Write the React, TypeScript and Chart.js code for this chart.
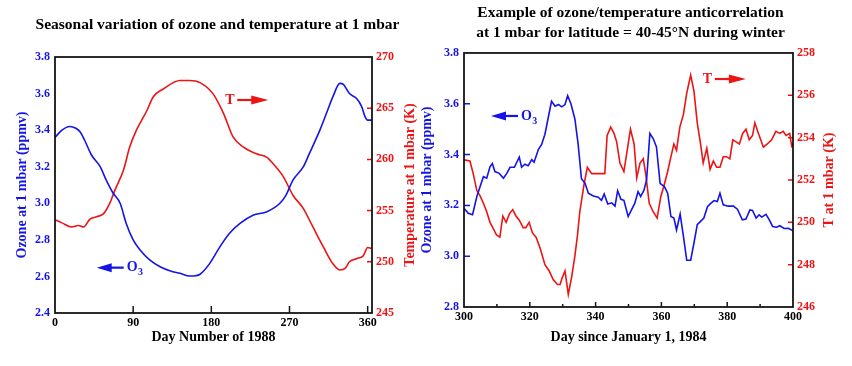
import React, { useEffect, useRef } from "react";
import { Chart, registerables } from "chart.js";

Chart.register(...registerables);

const SERIF = '"Liberation Serif", "Times New Roman", Times, serif';
const BLUE = "#1414e6";
const RED = "#ec1414";
const INK = "#151515";

// ---------- Left panel: seasonal variation at 1 mbar (1988) ----------
const SEASON_O3_DAYS = [0, 8, 17, 24, 29, 34, 42, 52, 59, 67, 75, 82, 90, 98, 109, 121, 133, 144, 155, 162, 167, 178, 190, 201, 213, 228, 244, 259, 266, 274, 286, 293, 305, 314, 320, 328, 332, 339, 347, 353, 357, 360, 365];
const SEASON_O3 = [3.36, 3.4, 3.42, 3.41, 3.39, 3.346, 3.264, 3.2, 3.127, 3.055, 3.0, 2.89, 2.8, 2.745, 2.69, 2.653, 2.63, 2.617, 2.602, 2.604, 2.612, 2.67, 2.763, 2.836, 2.89, 2.935, 2.954, 3.0, 3.045, 3.127, 3.2, 3.273, 3.4, 3.51, 3.583, 3.656, 3.65, 3.6, 3.574, 3.53, 3.474, 3.455, 3.455];
const SEASON_T_DAYS = [0, 8, 19, 27, 33, 40, 48, 56, 63, 69, 79, 86, 94, 106, 113, 125, 144, 155, 167, 182, 194, 205, 217, 232, 244, 251, 263, 274, 286, 297, 309, 320, 328, 334, 339, 347, 355, 360, 364];
const SEASON_T = [254.1, 253.8, 253.4, 253.55, 253.4, 254.15, 254.4, 254.7, 255.7, 257.0, 259.0, 261.2, 262.9, 264.8, 266.1, 266.9, 267.7, 267.7, 267.5, 266.4, 264.5, 262.2, 261.2, 260.55, 260.2, 259.6, 258.3, 256.5, 255.2, 253.4, 251.45, 249.8, 249.2, 249.35, 250.0, 250.3, 250.6, 251.4, 251.3];
const SEASON_DAY_TICKS = [0, 90, 180, 270, 360];
const SEASON_DAY_MARKS = [90, 180, 270, 360];
const SEASON_O3_TICKS = [2.4, 2.6, 2.8, 3.0, 3.2, 3.4, 3.6, 3.8];
const SEASON_T_TICKS = [245, 250, 255, 260, 265, 270];
const SEASON_T_MARKS = [250, 255, 260, 265];

// ---------- Right panel: winter anticorrelation, 40-45N ----------
const WINTER_O3_DAYS = [300, 301.3, 302.6, 303.9, 304.9, 305.9, 306.9, 307.9, 308.6, 309.4, 310.7, 312, 313, 314, 315.3, 316.8, 317.5, 318.5, 319.5, 320.6, 321.3, 322.6, 323.6, 324.6, 325.6, 326.6, 327.7, 328.7, 329.7, 330.7, 331.5, 332.5, 333.7, 334.7, 335.7, 336.8, 337.8, 339.3, 340.8, 341.8, 342.6, 343.7, 344.9, 345.9, 346.7, 347.7, 348.6, 349.9, 350.9, 351.9, 352.9, 353.7, 354.7, 355.5, 356.5, 357.5, 358.5, 359.6, 360.9, 361.9, 362.9, 363.8, 364.6, 365.7, 366.7, 367.7, 368.9, 369.9, 370.9, 371.9, 372.9, 374, 375, 376, 377, 377.8, 378.8, 380.3, 381.9, 383.1, 384.6, 385.7, 386.9, 387.7, 388.8, 389.7, 390.5, 391.8, 392.8, 393.8, 395, 396, 397.3, 398.6, 400];
const WINTER_O3 = [3.189, 3.169, 3.163, 3.235, 3.274, 3.313, 3.307, 3.352, 3.365, 3.333, 3.326, 3.307, 3.326, 3.35, 3.35, 3.39, 3.35, 3.362, 3.356, 3.38, 3.37, 3.42, 3.44, 3.48, 3.545, 3.61, 3.59, 3.597, 3.588, 3.597, 3.632, 3.6, 3.54, 3.44, 3.305, 3.287, 3.248, 3.237, 3.232, 3.22, 3.245, 3.205, 3.21, 3.197, 3.258, 3.224, 3.22, 3.156, 3.182, 3.208, 3.254, 3.235, 3.26, 3.3, 3.483, 3.463, 3.43, 3.287, 3.274, 3.248, 3.156, 3.15, 3.103, 3.166, 3.078, 2.984, 2.984, 3.052, 3.124, 3.137, 3.15, 3.195, 3.208, 3.219, 3.215, 3.248, 3.202, 3.197, 3.197, 3.185, 3.143, 3.146, 3.182, 3.18, 3.15, 3.163, 3.154, 3.165, 3.143, 3.117, 3.114, 3.12, 3.109, 3.11, 3.1];
const WINTER_T_DAYS = [300, 301.8, 302.8, 303.9, 304.9, 305.9, 306.9, 307.9, 308.9, 309.9, 310.9, 311.8, 312.8, 313.8, 314.8, 315.8, 316.8, 318, 318.8, 319.8, 320.8, 321.9, 323.1, 324.6, 325.9, 327.1, 328.4, 329.2, 329.9, 330.7, 331.7, 332.7, 333.7, 334.5, 335.2, 336.5, 337.5, 338.8, 340.3, 342.8, 343.5, 344.6, 345.6, 346.4, 347.4, 348.6, 349.6, 350.6, 351.7, 352.5, 353.5, 354.5, 355.3, 356.3, 357.5, 358.7, 359.8, 360.9, 361.9, 362.9, 363.8, 364.6, 365.6, 366.7, 367.7, 368.9, 369.9, 370.9, 371.9, 372.7, 373.8, 374.8, 375.8, 376.8, 377.8, 378.8, 379.8, 380.8, 381.7, 382.7, 383.7, 384.7, 385.7, 386.7, 387.7, 388.4, 389.5, 391, 392.2, 393.5, 394.8, 396, 397, 397.9, 399, 399.6, 400];
const WINTER_T = [252.95, 252.9, 252.3, 251.5, 251.25, 250.9, 250.5, 250.0, 249.7, 249.4, 249.3, 250.3, 250.0, 250.4, 250.6, 250.3, 250.1, 249.75, 249.75, 250.0, 249.5, 249.3, 248.8, 248.0, 247.7, 247.3, 247.06, 247.06, 247.4, 247.7, 246.6, 247.4, 248.4, 249.4, 250.5, 251.8, 252.6, 252.3, 252.3, 252.3, 254.1, 254.5, 254.2, 253.8, 252.8, 252.4, 253.4, 254.4, 253.7, 252.1, 252.8, 253.0, 252.2, 250.9, 250.5, 250.2, 251.2, 251.8, 252.4, 253.1, 253.7, 253.4, 254.5, 255.1, 256.1, 256.95, 256.2, 254.7, 253.7, 252.8, 253.5, 252.5, 252.9, 252.6, 252.6, 253.1, 253.1, 253.0, 253.9, 253.8, 253.7, 254.2, 254.4, 253.9, 254.1, 254.7, 254.2, 253.55, 253.7, 253.9, 254.3, 254.2, 254.3, 254.1, 254.2, 253.6, 253.7];
const WINTER_DAY_TICKS = [300, 320, 340, 360, 380, 400];
const WINTER_DAY_MARKS = [320, 340, 360, 380];
const WINTER_DAY_MINOR = [310, 330, 350, 370, 390];
const WINTER_O3_TICKS = [2.8, 3.0, 3.2, 3.4, 3.6, 3.8];
const WINTER_O3_MARKS = [3.0, 3.2, 3.4, 3.6];
const WINTER_T_TICKS = [246, 248, 250, 252, 254, 256, 258];
const WINTER_T_MARKS = [248, 250, 252, 254, 256];

const pts = (xs: number[], ys: number[]) => xs.map((x, i) => ({ x, y: ys[i] }));
const font = (size: number) => ({ family: SERIF, size, weight: "bold" as const });

function drawO3Label(ctx: CanvasRenderingContext2D, x: number, y: number) {
  ctx.fillStyle = BLUE;
  ctx.strokeStyle = BLUE;
  ctx.beginPath();
  ctx.moveTo(x, y);
  ctx.lineTo(x + 15, y - 4.5);
  ctx.lineTo(x + 15, y + 4.5);
  ctx.closePath();
  ctx.fill();
  ctx.lineWidth = 2.2;
  ctx.beginPath();
  ctx.moveTo(x + 13, y);
  ctx.lineTo(x + 27, y);
  ctx.stroke();
  ctx.font = `bold 14px ${SERIF}`;
  ctx.textAlign = "left";
  ctx.textBaseline = "middle";
  ctx.fillText("O", x + 30, y);
  const w = ctx.measureText("O").width;
  ctx.font = `bold 10px ${SERIF}`;
  ctx.fillText("3", x + 30 + w + 0.5, y + 5);
}

function drawTLabel(ctx: CanvasRenderingContext2D, x: number, y: number) {
  ctx.fillStyle = RED;
  ctx.strokeStyle = RED;
  ctx.font = `bold 14px ${SERIF}`;
  ctx.textAlign = "left";
  ctx.textBaseline = "middle";
  ctx.fillText("T", x, y);
  ctx.lineWidth = 2.2;
  ctx.beginPath();
  ctx.moveTo(x + 12, y);
  ctx.lineTo(x + 28, y);
  ctx.stroke();
  ctx.beginPath();
  ctx.moveTo(x + 43, y);
  ctx.lineTo(x + 26, y - 4.5);
  ctx.lineTo(x + 26, y + 4.5);
  ctx.closePath();
  ctx.fill();
}

const decorPlugin = {
  id: "decor",
  afterDatasetsDraw(chart: any, _args: any, o: any) {
    const ctx: CanvasRenderingContext2D = chart.ctx;
    const { left, right, top, bottom } = chart.chartArea;
    const sx = chart.scales.x;
    const sy = chart.scales.y;
    const sy1 = chart.scales.y1;
    ctx.save();
    ctx.lineWidth = 1.5;
    ctx.strokeStyle = INK;
    ctx.beginPath();
    for (const v of o.xMarks) {
      const px = sx.getPixelForValue(v);
      ctx.moveTo(px, bottom);
      ctx.lineTo(px, bottom - o.xMarkLen);
    }
    for (const v of o.xMinor) {
      const px = sx.getPixelForValue(v);
      ctx.moveTo(px, bottom);
      ctx.lineTo(px, bottom - o.xMinorLen);
    }
    ctx.stroke();
    ctx.strokeStyle = BLUE;
    ctx.beginPath();
    for (const v of o.o3Marks) {
      const py = sy.getPixelForValue(v);
      ctx.moveTo(left, py);
      ctx.lineTo(left + o.o3MarkLen, py);
    }
    ctx.stroke();
    ctx.strokeStyle = RED;
    ctx.beginPath();
    for (const v of o.tMarks) {
      const py = sy1.getPixelForValue(v);
      ctx.moveTo(right, py);
      ctx.lineTo(right - o.tMarkLen, py);
    }
    ctx.stroke();
    ctx.strokeStyle = INK;
    ctx.lineWidth = 1.8;
    ctx.strokeRect(left, top, right - left, bottom - top);

    // right axis title, reading bottom-to-top like the reference
    ctx.save();
    ctx.translate(right + o.tTitleGap, (top + bottom) / 2);
    ctx.rotate(-Math.PI / 2);
    ctx.fillStyle = RED;
    ctx.font = `bold 14px ${SERIF}`;
    ctx.textAlign = "center";
    ctx.textBaseline = "middle";
    ctx.fillText(o.tTitle, 0, 0);
    ctx.restore();

    drawO3Label(ctx, sx.getPixelForValue(o.o3Label[0]), sy.getPixelForValue(o.o3Label[1]));
    drawTLabel(ctx, sx.getPixelForValue(o.tLabel[0]), sy1.getPixelForValue(o.tLabel[1]));
    ctx.restore();
  },
};

type Panel = {
  title: string | string[];
  titlePad: { top: number; bottom: number };
  titleLineHeight: number;
  xTitle: string;
  xMin: number;
  xMax: number;
  xTicks: number[];
  xMarks: number[];
  xMarkLen: number;
  xMinor: number[];
  xMinorLen: number;
  xAxisHeight: number;
  o3Min: number;
  o3Max: number;
  o3Ticks: number[];
  o3Marks: number[];
  leftWidth: number;
  o3TitlePad: number;
  tMin: number;
  tMax: number;
  tTicks: number[];
  tMarks: number[];
  rightWidth: number;
  tTitle: string;
  tTitleGap: number;
  o3: { x: number; y: number }[];
  t: { x: number; y: number }[];
  smooth: boolean;
  o3Label: [number, number];
  tLabel: [number, number];
};

function buildChart(canvas: HTMLCanvasElement, p: Panel) {
  const lineStyle = p.smooth
    ? { tension: 0.4, cubicInterpolationMode: "monotone" as const }
    : { tension: 0 };
  return new Chart(canvas, {
    type: "line",
    data: {
      datasets: [
        { label: "O3", data: p.o3, borderColor: BLUE, borderWidth: 1.6, pointRadius: 0, yAxisID: "y", fill: false, ...lineStyle },
        { label: "T", data: p.t, borderColor: RED, borderWidth: 1.6, pointRadius: 0, yAxisID: "y1", fill: false, ...lineStyle },
      ],
    },
    options: {
      responsive: false,
      animation: false,
      events: [],
      layout: { padding: 0 },
      plugins: {
        legend: { display: false },
        tooltip: { enabled: false },
        title: {
          display: true,
          text: p.title,
          color: "#000",
          font: { ...font(15.5), lineHeight: p.titleLineHeight },
          padding: p.titlePad,
        },
        decor: {
          xMarks: p.xMarks,
          xMarkLen: p.xMarkLen,
          xMinor: p.xMinor,
          xMinorLen: p.xMinorLen,
          o3Marks: p.o3Marks,
          o3MarkLen: 6,
          tMarks: p.tMarks,
          tMarkLen: 5,
          tTitle: p.tTitle,
          tTitleGap: p.tTitleGap,
          o3Label: p.o3Label,
          tLabel: p.tLabel,
        },
      } as any,
      scales: {
        x: {
          type: "linear",
          position: "bottom",
          min: p.xMin,
          max: p.xMax,
          grid: { display: false, drawTicks: false },
          border: { display: false },
          afterBuildTicks: (s: any) => {
            s.ticks = p.xTicks.map((v) => ({ value: v }));
          },
          afterFit: (s: any) => {
            s.height = p.xAxisHeight;
          },
          ticks: { color: "#000", font: font(12), padding: 3, autoSkip: false, maxRotation: 0 },
          title: { display: true, text: p.xTitle, color: "#000", font: font(14), padding: { top: 0, bottom: 20 } },
        },
        y: {
          type: "linear",
          position: "left",
          min: p.o3Min,
          max: p.o3Max,
          grid: { display: false, drawTicks: false },
          border: { display: false },
          afterBuildTicks: (s: any) => {
            s.ticks = p.o3Ticks.map((v) => ({ value: v }));
          },
          afterFit: (s: any) => {
            s.width = p.leftWidth;
          },
          ticks: { color: BLUE, font: font(12), padding: 5, autoSkip: false, callback: (v: any) => Number(v).toFixed(1) },
          title: { display: true, text: "Ozone at 1 mbar (ppmv)", color: BLUE, font: font(14), padding: { top: p.o3TitlePad, bottom: 0 } },
        },
        y1: {
          type: "linear",
          position: "right",
          min: p.tMin,
          max: p.tMax,
          grid: { display: false, drawTicks: false },
          border: { display: false },
          afterBuildTicks: (s: any) => {
            s.ticks = p.tTicks.map((v) => ({ value: v }));
          },
          afterFit: (s: any) => {
            s.width = p.rightWidth;
          },
          ticks: { color: RED, font: font(12), padding: 4, autoSkip: false, callback: (v: any) => String(v) },
        },
      } as any,
    },
    plugins: [decorPlugin as any],
  });
}

const seasonPanel: Panel = {
  title: "Seasonal variation of ozone and temperature at 1 mbar",
  titlePad: { top: 15.2, bottom: 23.2 },
  titleLineHeight: 1.2,
  xTitle: "Day Number of 1988",
  xMin: 0,
  xMax: 365,
  xTicks: SEASON_DAY_TICKS,
  xMarks: SEASON_DAY_MARKS,
  xMarkLen: 7,
  xMinor: [],
  xMinorLen: 0,
  xAxisHeight: 53,
  o3Min: 2.4,
  o3Max: 3.8,
  o3Ticks: SEASON_O3_TICKS,
  o3Marks: [],
  leftWidth: 55,
  o3TitlePad: 14,
  tMin: 245,
  tMax: 270,
  tTicks: SEASON_T_TICKS,
  tMarks: SEASON_T_MARKS,
  rightWidth: 63,
  tTitle: "Temperature at 1 mbar (K)",
  tTitleGap: 38,
  o3: pts(SEASON_O3_DAYS, SEASON_O3),
  t: pts(SEASON_T_DAYS, SEASON_T),
  smooth: true,
  o3Label: [48, 2.648],
  tLabel: [196, 265.8],
};

const winterPanel: Panel = {
  title: ["Example of ozone/temperature anticorrelation", "at 1 mbar for latitude = 40-45°N during winter"],
  titlePad: { top: 3.4, bottom: 10.2 },
  titleLineHeight: 1.27,
  xTitle: "Day since January 1, 1984",
  xMin: 300,
  xMax: 400,
  xTicks: WINTER_DAY_TICKS,
  xMarks: WINTER_DAY_MARKS,
  xMarkLen: 5,
  xMinor: WINTER_DAY_MINOR,
  xMinorLen: 3,
  xAxisHeight: 59,
  o3Min: 2.8,
  o3Max: 3.8,
  o3Ticks: WINTER_O3_TICKS,
  o3Marks: WINTER_O3_MARKS,
  leftWidth: 49,
  o3TitlePad: 3.6,
  tMin: 246,
  tMax: 258,
  tTicks: WINTER_T_TICKS,
  tMarks: WINTER_T_MARKS,
  rightWidth: 53,
  tTitle: "T at 1 mbar (K)",
  tTitleGap: 36,
  o3: pts(WINTER_O3_DAYS, WINTER_O3),
  t: pts(WINTER_T_DAYS, WINTER_T),
  smooth: false,
  o3Label: [308.2, 3.552],
  tLabel: [372.6, 256.77],
};

function PanelChart({ panel, left, width }: { panel: Panel; left: number; width: number }) {
  const ref = useRef<HTMLCanvasElement | null>(null);
  useEffect(() => {
    if (!ref.current) return;
    const chart = buildChart(ref.current, panel);
    return () => chart.destroy();
  }, [panel]);
  return (
    <canvas
      ref={ref}
      width={width}
      height={366}
      style={{ position: "absolute", left, top: 0, width, height: 366 }}
    />
  );
}

export default function App() {
  useEffect(() => {
    document.body.style.margin = "0";
  }, []);
  return (
    <div style={{ position: "absolute", left: 0, top: 0, width: 852, height: 366, background: "#fff", overflow: "hidden" }}>
      <PanelChart panel={seasonPanel} left={0} width={435} />
      <PanelChart panel={winterPanel} left={415} width={431} />
    </div>
  );
}
